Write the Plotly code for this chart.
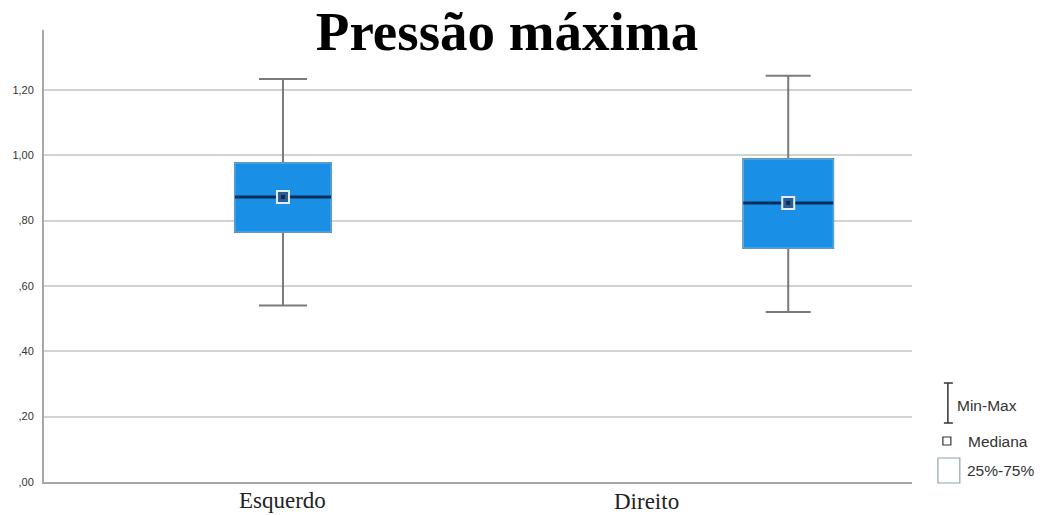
import plotly.graph_objects as go

# ---- data ----
categories = ["Esquerdo", "Direito"]
positions = [0, 1]
minimum = [0.54, 0.52]
q1 = [0.765, 0.716]
median = [0.872, 0.854]
q3 = [0.976, 0.988]
maximum = [1.233, 1.243]
box_widths = [0.19, 0.178]
label_positions = [0.0, 0.72]
ytick_vals = [0.0, 0.2, 0.4, 0.6, 0.8, 1.0, 1.2]
ytick_text = [",00", ",20", ",40", ",60", ",80", "1,00", "1,20"]

W, H = 1044, 515
ML, MR, MT, MB = 41, 132, 30, 33
PW, PH = W - ML - MR, H - MT - MB

BLUE = "#1a8fe6"
EDGE = "#55b8f5"
NAVY = "#0c2d5c"
WHISK = "#7a7a7a"

fig = go.Figure()
for i, cat in enumerate(categories):
    # whiskers + box
    fig.add_trace(go.Box(
        x=[positions[i]], q1=[q1[i]], median=[median[i]], q3=[q3[i]],
        lowerfence=[minimum[i]], upperfence=[maximum[i]],
        width=box_widths[i], whiskerwidth=0.5,
        fillcolor=BLUE, line=dict(color=WHISK, width=2),
        boxpoints=False, showlegend=False, hoverinfo="skip", name=cat))
    # box body with light edge
    fig.add_trace(go.Box(
        x=[positions[i]], q1=[q1[i]], median=[median[i]], q3=[q3[i]],
        lowerfence=[q1[i]], upperfence=[q3[i]],
        width=box_widths[i], whiskerwidth=0,
        fillcolor=BLUE, line=dict(color=EDGE, width=1),
        boxpoints=False, showlegend=False, hoverinfo="skip", name=cat))
    # median line
    fig.add_trace(go.Scatter(
        x=[positions[i] - box_widths[i] / 2, positions[i] + box_widths[i] / 2],
        y=[median[i], median[i]], mode="lines",
        line=dict(color=NAVY, width=3), showlegend=False, hoverinfo="skip"))
    # median marker
    fig.add_trace(go.Scatter(
        x=[positions[i]], y=[median[i]], mode="markers",
        marker=dict(symbol="square", size=12, color="#2b5d92",
                    line=dict(color="#e3ecf4", width=2)),
        showlegend=False, hoverinfo="skip"))
    fig.add_trace(go.Scatter(
        x=[positions[i]], y=[median[i]], mode="markers",
        marker=dict(symbol="square", size=4, color=NAVY),
        showlegend=False, hoverinfo="skip"))

# category labels
for cat, lp, yoff in zip(categories, label_positions, [0, -1]):
    fig.add_annotation(x=lp, xref="x", y=0, yref="paper", yanchor="top",
                       yshift=-4 + yoff, text=cat, showarrow=False,
                       font=dict(family="Liberation Serif", size=23, color="#222"))

# legend (drawn in pixel-based paper coords)
def px(x):
    return (x - ML) / PW

def py(y):
    return (H - MB - y) / PH

shapes = []
lc = "#333333"
# I-beam
shapes.append(dict(type="line", xref="paper", yref="paper", x0=px(948), x1=px(948), y0=py(383), y1=py(423), line=dict(color=lc, width=1.5)))
shapes.append(dict(type="line", xref="paper", yref="paper", x0=px(944), x1=px(953), y0=py(383), y1=py(383), line=dict(color=lc, width=1.5)))
shapes.append(dict(type="line", xref="paper", yref="paper", x0=px(944), x1=px(953), y0=py(423), y1=py(423), line=dict(color=lc, width=1.5)))
# small square
shapes.append(dict(type="rect", xref="paper", yref="paper", x0=px(943), x1=px(951), y0=py(437), y1=py(445), line=dict(color=lc, width=1.2), fillcolor="white"))
# big square
shapes.append(dict(type="rect", xref="paper", yref="paper", x0=px(938), x1=px(960), y0=py(458), y1=py(483), line=dict(color="#8ea3b0", width=1.2), fillcolor="white"))
fig.update_layout(shapes=shapes)
for txt, x0, y0 in [("Min-Max", 955, 405), ("Mediana", 966, 441), ("25%-75%", 965, 470)]:
    fig.add_annotation(x=px(x0), y=py(y0), xref="paper", yref="paper", xanchor="left", yanchor="middle",
                       text=txt, showarrow=False, font=dict(family="Liberation Sans", size=15.5, color="#333"))

fig.update_layout(
    width=W, height=H,
    margin=dict(l=ML, r=MR, t=MT, b=MB, pad=0),
    paper_bgcolor="white", plot_bgcolor="white",
    title=dict(text="<b>Pressão máxima</b>", x=(507) / W, xanchor="center", y=1 - 31 / H, yanchor="middle",
               font=dict(family="Liberation Serif", size=55, color="black")),
    xaxis=dict(range=[-0.473, 1.245], showgrid=False, zeroline=False, showticklabels=False,
               showline=True, linecolor="#a8a8a8", linewidth=2, ticks=""),
    yaxis=dict(range=[0, 1.383], tickvals=ytick_vals, ticktext=ytick_text, showgrid=True,
               gridcolor="#d2d2d2", gridwidth=1.5, zeroline=False,
               showline=True, linecolor="#a8a8a8", linewidth=2, ticks="", ticklabelstandoff=6,
               tickfont=dict(family="Liberation Sans", size=11, color="#333")),
    showlegend=False,
)

fig.write_html("out.html", config={"displayModeBar": False},
               post_script="document.body.style.margin='0';document.body.style.padding='0';document.body.style.overflow='hidden';")
